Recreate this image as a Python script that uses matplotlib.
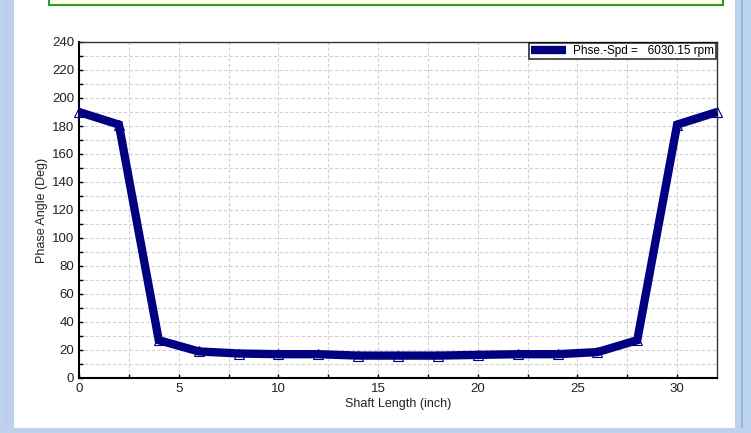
import matplotlib
matplotlib.use("Agg")
import matplotlib.pyplot as plt
from matplotlib.patches import Rectangle
from matplotlib.ticker import MultipleLocator

plt.rcParams['font.family'] = ['Liberation Sans', 'DejaVu Sans']

# Shaft positions (inch) and phase angle (deg)
shaft_length = [0, 2, 4, 6, 8, 10, 12, 14, 16, 18, 20, 22, 24, 26, 28, 30, 32]
phase_angle = [190, 181, 27, 19, 17.5, 17, 17, 16, 16, 16, 16.5, 17, 17, 18.5, 27, 181, 190]
series_label = "Phse.-Spd =   6030.15 rpm"
x_label = "Shaft Length (inch)"
y_label = "Phase Angle (Deg)"

W, H = 751, 433
fig = plt.figure(figsize=(W / 100, H / 100), dpi=100)
fig.patch.set_facecolor("white")

def px_rect(x0, y0, x1, y1, **kw):
    # rectangle in pixel coordinates (origin top-left)
    fig.patches.append(Rectangle((x0 / W, 1 - y1 / H), (x1 - x0) / W, (y1 - y0) / H,
                                 transform=fig.transFigure, figure=fig, **kw))

# window frame
px_rect(0, 0, 14, H, facecolor="#BCD3EB", edgecolor="none")
px_rect(5, 0, 7, H, facecolor="#C9C3EE", edgecolor="none")
px_rect(735, 0, W, H, facecolor="#BCD3EB", edgecolor="none")
px_rect(741, 0, 743, H, facecolor="#8FB8EA", edgecolor="none")
px_rect(0, 428, W, H, facecolor="#BCD3EB", edgecolor="none")
# status box at the top
px_rect(49, -3, 723, 5, facecolor="#FFFFE1", edgecolor="#2E9A2E", linewidth=1.5)

ax = fig.add_axes([79 / W, 1 - 378 / H, (717 - 79) / W, (378 - 42) / H])
ax.set_facecolor("white")
ax.plot(shaft_length, phase_angle, color="#000080", linewidth=6,
        solid_joinstyle="miter", solid_capstyle="butt",
        marker="^", markersize=7, markerfacecolor="none", markeredgecolor="#000080",
        markeredgewidth=0.8, label=series_label, zorder=3, clip_on=False)

ax.set_xlim(0, 32)
ax.set_ylim(0, 240)
ax.xaxis.set_major_locator(MultipleLocator(5))
ax.xaxis.set_minor_locator(MultipleLocator(2.5))
ax.yaxis.set_major_locator(MultipleLocator(20))
ax.yaxis.set_minor_locator(MultipleLocator(10))
ax.grid(True, which="both", color="#D0D0D0", linestyle=(0, (3, 2)), linewidth=0.8)
ax.tick_params(which="both", direction="in", length=3, width=1, colors="black",
               labelsize=9.5, labelcolor="#222222")
ax.tick_params(which="both", top=False, right=False)
for s in ["left", "bottom"]:
    ax.spines[s].set_linewidth(1.5)
for s in ["top", "right"]:
    ax.spines[s].set_linewidth(1.0)
    ax.spines[s].set_color("#333333")

ax.set_xlabel(x_label, fontsize=9, labelpad=2, color="#222222")
ax.set_ylabel(y_label, fontsize=9, labelpad=3, color="#222222")

leg = ax.legend(loc="upper right", fontsize=8.5, frameon=True, fancybox=False,
                borderaxespad=0.1, handlelength=3.0, handletextpad=0.6,
                borderpad=0.15, markerscale=0)
leg.get_frame().set_edgecolor("black")
leg.get_frame().set_linewidth(1.2)
leg.set_zorder(5)
for h in leg.legend_handles:
    h.set_marker("")
    h.set_solid_capstyle("butt")

fig.savefig("out.png", dpi=100)
